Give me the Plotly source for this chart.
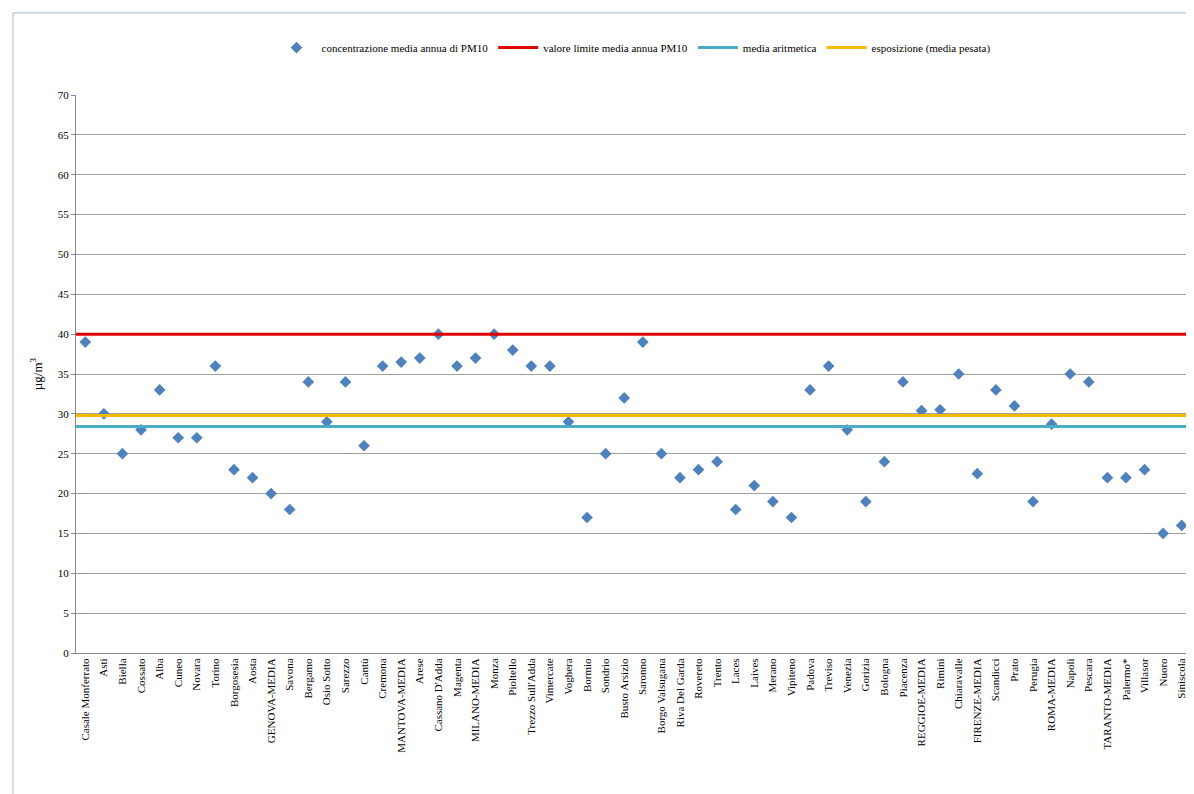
import plotly.graph_objects as go

stazioni = ["Casale Monferrato", "Asti", "Biella", "Cossato", "Alba", "Cuneo", "Novara", "Torino",
            "Borgosesia", "Aosta", "GENOVA-MEDIA", "Savona", "Bergamo", "Osio Sotto", "Sarezzo",
            "Cantù", "Cremona", "MANTOVA-MEDIA", "Arese", "Cassano D'Adda", "Magenta",
            "MILANO-MEDIA", "Monza", "Pioltello", "Trezzo Sull'Adda", "Vimercate", "Voghera",
            "Bormio", "Sondrio", "Busto Arsizio", "Saronno", "Borgo Valsugana", "Riva Del Garda",
            "Rovereto", "Trento", "Laces", "Laives", "Merano", "Vipiteno", "Padova", "Treviso",
            "Venezia", "Gorizia", "Bologna", "Piacenza", "REGGIOE-MEDIA", "Rimini", "Chiaravalle",
            "FIRENZE-MEDIA", "Scandicci", "Prato", "Perugia", "ROMA-MEDIA", "Napoli", "Pescara",
            "TARANTO-MEDIA", "Palermo*", "Villasor", "Nuoro", "Siniscola"]
pm10 = [39, 30, 25, 28, 33, 27, 27, 36, 23, 22, 20, 18, 34, 29, 34, 26, 36, 36.5, 37, 40, 36,
        37, 40, 38, 36, 36, 29, 17, 25, 32, 39, 25, 22, 23, 24, 18, 21, 19, 17, 33, 36, 28, 19,
        24, 34, 30.4, 30.5, 35, 22.5, 33, 31, 19, 28.7, 35, 34, 22, 22, 23, 15, 16]
valore_limite = 40
media_aritmetica = 28.4
esposizione = 29.8

idx = list(range(len(stazioni)))
span = [-0.5, len(stazioni) - 0.5]

fig = go.Figure()
fig.add_trace(go.Scatter(x=idx, y=pm10, mode="markers", name="concentrazione media annua di PM10",
                         marker=dict(symbol="diamond", size=9, color="#4F81BD")))
fig.add_trace(go.Scatter(x=span, y=[valore_limite] * 2, mode="lines",
                         name="valore limite media annua PM10", line=dict(color="#E00000", width=3)))
fig.add_trace(go.Scatter(x=span, y=[media_aritmetica] * 2, mode="lines",
                         name="media aritmetica", line=dict(color="#4BACC6", width=3)))
fig.add_trace(go.Scatter(x=span, y=[esposizione] * 2, mode="lines",
                         name="esposizione (media pesata)", line=dict(color="#F7B800", width=3)))

fig.update_layout(
    width=1194, height=794,
    paper_bgcolor="white", plot_bgcolor="white",
    font=dict(family="Liberation Serif", size=11, color="black"),
    margin=dict(l=68, r=11, t=87, b=149),
    showlegend=True,
    legend=dict(orientation="h", x=0.5, xanchor="center", y=1.085, yanchor="middle",
                font=dict(size=11), itemwidth=40),
    xaxis=dict(range=span, tickmode="array", tickvals=idx, ticktext=stazioni, tickangle=-90,
               showgrid=False, zeroline=False, showline=True, linecolor="#888888",
               ticks="", tickfont=dict(size=11), automargin=False),
    yaxis=dict(range=[0, 70], dtick=5, showgrid=True, gridcolor="#A0A0A0", gridwidth=1,
               zeroline=False, showline=True, linecolor="#888888", ticks="outside",
               ticklen=4, tickcolor="#888888", automargin=False,
               title=dict(text="µg/m<sup>3</sup>", standoff=12)),
    shapes=[dict(type="rect", xref="paper", yref="paper", x0=-0.0565, x1=1.006, y0=-0.26, y1=1.147,
                 line=dict(color="#9DB9D9", width=1))],
)

fig.write_html("out.html")
